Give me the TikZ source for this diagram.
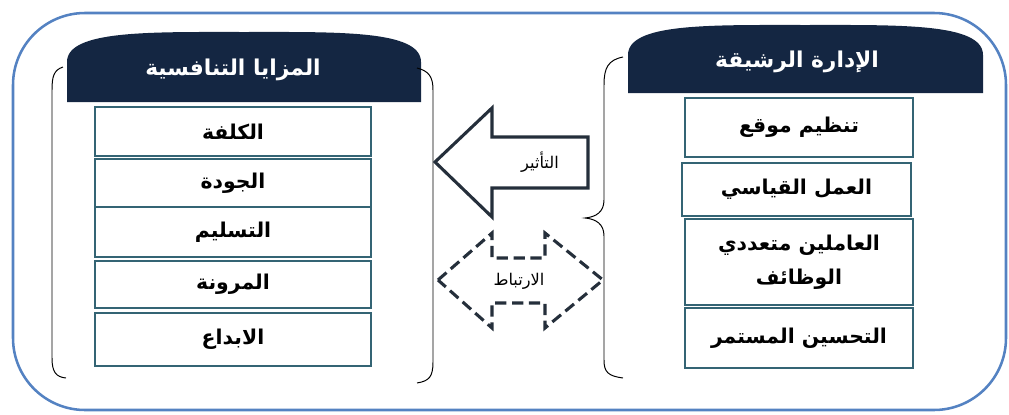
\documentclass[tikz,border=0pt]{standalone}
\usepackage{fontspec}
\newfontfamily\arabicfont[Script=Arabic]{DejaVu Sans}
\TeXXeTstate=1
\definecolor{FrameBlue}{RGB}{84,130,194}
\definecolor{HeadNavy}{RGB}{20,38,66}
\definecolor{BoxTeal}{RGB}{52,100,116}
\definecolor{ArrowSlate}{RGB}{37,47,59}
\usetikzlibrary{positioning}
\newcommand{\artxt}[1]{{\arabicfont\beginR #1\endR}}

\begin{document}
\begin{tikzpicture}[x=0.025cm, y=-0.025cm,
	item/.style={draw=BoxTeal, line width=1.2pt, fill=white, inner sep=0pt, align=center,
		font=\arabicfont\bfseries\fontsize{14.5}{24}\selectfont},
	hd/.style={text=white, font=\arabicfont\bfseries\fontsize{15.5}{18}\selectfont},
	blk/.style={draw=ArrowSlate, line width=2.2pt, line join=miter, fill=white},
	brk/.style={line width=0.7pt},
	lbl/.style={font=\arabicfont\fontsize{11.5}{13}\selectfont}]
	\useasboundingbox (0,0) rectangle (1009,415);

	% outer frame
	\draw[FrameBlue, line width=1.8pt, rounded corners=1.8cm] (13,13) rectangle (1006,410);

	% left column
	\fill[HeadNavy] (67,102) -- (67,62) .. controls (67,30) and (150,32) .. (244,32)
		.. controls (338,32) and (421,30) .. (421,62) -- (421,102) -- cycle;
	\node[hd] (lhead) at (233,70) {\artxt{المزايا التنافسية}};
	\foreach \n/\y/\h/\t in {1/131.5/1.225/الكلفة, 2/183/1.2/الجودة, 3/232/1.25/التسليم,
		4/284.5/1.175/المرونة, 5/339.5/1.325/الابداع}{
		\node[item, minimum width=6.9cm, minimum height=\h cm] (l\n) at (233,\y) {\artxt{\t}};}
	\draw[brk] (63,67) .. controls (54,70) and (52,76) .. (52,90) -- (52,358)
		.. controls (52,372) and (56,377) .. (66,378);
	\draw[brk] (417,68) .. controls (429,71) and (433,77) .. (433,90) -- (433,362)
		.. controls (433,377) and (429,381) .. (417,383);

	% right column
	\fill[HeadNavy] (628,93) -- (628,55) .. controls (628,23) and (710,25) .. (805,25)
		.. controls (900,25) and (983,23) .. (983,55) -- (983,93) -- cycle;
	\node[hd] (rhead) at (797,62) {\artxt{الإدارة الرشيقة}};
	\node[item, minimum width=5.7cm, minimum height=1.475cm] (r1) at (799,127.5) {\artxt{تنظيم موقع}};
	\node[item, minimum width=5.72cm, minimum height=1.325cm] (r2) at (796.5,189.5) {\artxt{العمل القياسي}};
	\node[item, minimum width=5.7cm, minimum height=2.15cm] (r3) at (799,262)
		{\artxt{العاملين متعددي}\\\artxt{الوظائف}};
	\node[item, minimum width=5.7cm, minimum height=1.5cm] (r4) at (799,338) {\artxt{التحسين المستمر}};
	\draw[brk] (623,57) .. controls (608,60) and (604,68) .. (604,85) -- (604,200)
		.. controls (604,212) and (596,217) .. (585,218)
		.. controls (596,219) and (604,224) .. (604,236) -- (604,360)
		.. controls (604,372) and (608,376) .. (623,378);

	% arrows between the columns
	\draw[blk] (435,162) -- (492,108) -- (492,137) -- (588,137) -- (588,188)
		-- (492,188) -- (492,217) -- cycle;
	\node[lbl] (effect) at (540,162) {\artxt{التأثير}};
	\draw[blk, dash pattern=on 8pt off 4pt] (438,280) -- (492,233) -- (492,258)
		-- (545,258) -- (545,233) -- (603,280) -- (545,328) -- (545,303)
		-- (492,303) -- (492,328) -- cycle;
	\node[lbl] (link) at (519,281) {\artxt{الارتباط}};
\end{tikzpicture}
\end{document}
